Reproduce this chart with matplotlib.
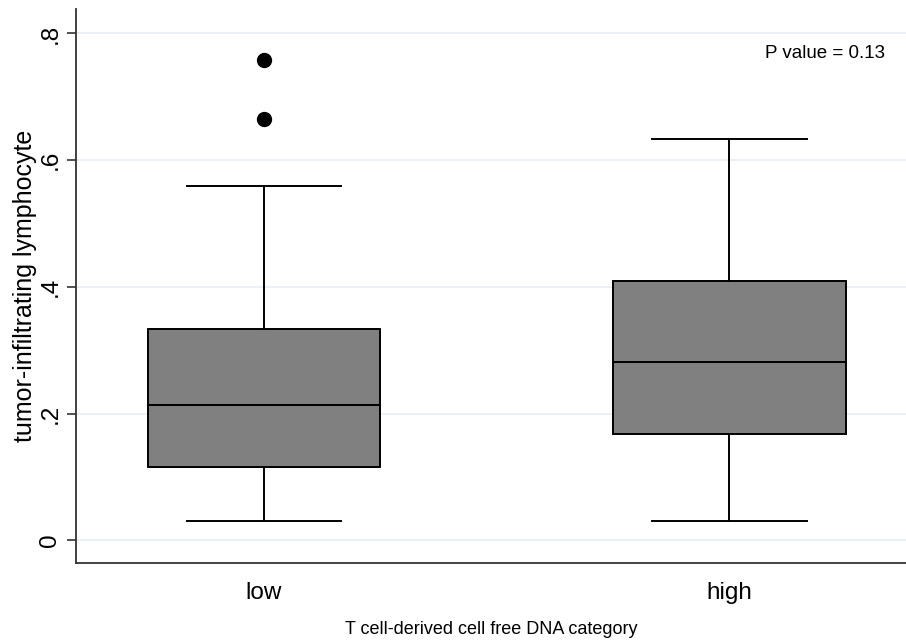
import matplotlib
matplotlib.use("Agg")
import matplotlib.pyplot as plt

plt.rcParams["font.family"] = ["Liberation Sans", "DejaVu Sans"]

# ---- 데이터 ----
categories = ["low", "high"]
q1 = [0.115, 0.167]
median = [0.213, 0.281]
q3 = [0.333, 0.409]
whisker_lo = [0.031, 0.030]
whisker_hi = [0.559, 0.633]
outliers = [[0.665, 0.758], []]

y_ticks = [0, 0.2, 0.4, 0.6, 0.8]
y_tick_labels = ["0", ".2", ".4", ".6", ".8"]

stats = [
    dict(label=c, q1=a, med=m, q3=b, whislo=lo, whishi=hi, fliers=f)
    for c, a, m, b, lo, hi, f in zip(categories, q1, median, q3, whisker_lo, whisker_hi, outliers)
]

fig = plt.figure(figsize=(9.06, 6.43), dpi=100)
ax = fig.add_axes([0.0839, 0.1244, 0.9161, 0.862])

line_kw = dict(color="black", linewidth=1.4)
ax.bxp(stats, positions=[1, 2], widths=0.5, capwidths=0.333, patch_artist=True,
       boxprops=dict(facecolor="#808080", edgecolor="black", linewidth=1.4),
       medianprops=line_kw, whiskerprops=line_kw, capprops=line_kw,
       flierprops=dict(marker="o", markerfacecolor="black", markeredgecolor="black", markersize=10))

ax.set_xlim(0.596, 2.38)
ax.set_ylim(-0.036, 0.839)

ax.set_yticks(y_ticks)
ax.set_yticklabels(y_tick_labels, rotation=90, va="center", fontsize=17.5)
ax.tick_params(axis="y", length=6.5, width=1.2, color="#333333", pad=4)
ax.tick_params(axis="x", length=0, labelsize=17.5, pad=14)

ax.yaxis.grid(True, color="#e6eef1", linewidth=1.2)
ax.set_axisbelow(True)
for side in ["top", "right"]:
    ax.spines[side].set_visible(False)
for side in ["left", "bottom"]:
    ax.spines[side].set_color("#333333")
    ax.spines[side].set_linewidth(1.3)

ax.set_ylabel("tumor-infiltrating lymphocyte", fontsize=18, labelpad=2)
ax.set_xlabel("T cell-derived cell free DNA category", fontsize=13, labelpad=12)

fig.text(885 / 906, 1 - 53 / 643, "P value = 0.13", fontsize=13.5, ha="right", va="center")

fig.savefig("out.png", dpi=100)
